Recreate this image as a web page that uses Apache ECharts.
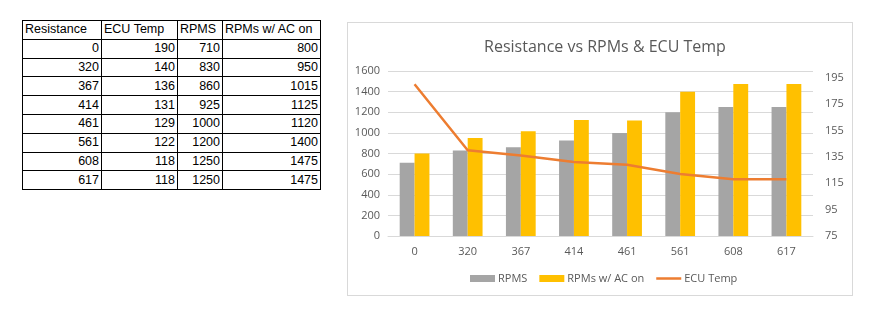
<!DOCTYPE html>
<html>
<head>
<meta charset="utf-8">
<script src="https://cdn.jsdelivr.net/npm/echarts@6/dist/echarts.min.js"></script>
<style>
  html, body { margin: 0; padding: 0; background: #fff; }
  #wrap { position: relative; width: 871px; height: 326px; overflow: hidden; }
  #chart { position: absolute; left: 0; top: 0; width: 871px; height: 326px; }
  #box { position: absolute; left: 347px; top: 22px; width: 506px; height: 274px;
         border: 1px solid #d9d9d9; box-sizing: border-box; }
  table { position: absolute; left: 22px; top: 20px; border-collapse: collapse; table-layout: fixed;
          font-family: "Liberation Sans", Arial, sans-serif; font-size: 12.5px; color: #000; }
  td { border: 1px solid #000; height: 17.8px; padding: 0 2px; line-height: 17px; white-space: nowrap; overflow: hidden; }
  td.num { text-align: right; }
</style>
</head>
<body>
<div id="wrap">
  <div id="box"></div>
  <table id="tbl"></table>
  <div id="chart"></div>
</div>
<script>
// Measurements per resistance step
const resistance = ['0', '320', '367', '414', '461', '561', '608', '617'];
const ecuTemp = [190, 140, 136, 131, 129, 122, 118, 118];
const rpms = [710, 830, 860, 925, 1000, 1200, 1250, 1250];
const rpmsAc = [800, 950, 1015, 1125, 1120, 1400, 1475, 1475];
const tempTicks = [75, 95, 115, 135, 155, 175, 195];
const headers = ['Resistance', 'ECU Temp', 'RPMS', 'RPMs w/ AC on'];
const colWidths = [74, 71, 40, 93];

// Data table
const tbl = document.getElementById('tbl');
const hr = document.createElement('tr');
headers.forEach((h, i) => {
  const td = document.createElement('td');
  td.textContent = h;
  td.style.width = colWidths[i] + 'px';
  hr.appendChild(td);
});
tbl.appendChild(hr);
resistance.forEach((r, i) => {
  const tr = document.createElement('tr');
  [r, ecuTemp[i], rpms[i], rpmsAc[i]].forEach(v => {
    const td = document.createElement('td');
    td.className = 'num';
    td.textContent = v;
    tr.appendChild(td);
  });
  tbl.appendChild(tr);
});

const chart = echarts.init(document.getElementById('chart'), null, { renderer: 'canvas' });
const txt = '#595959';
const font = '"Open Sans", "Noto Sans", sans-serif';
// thin horizontal bar for the line series' legend key (hairline keeps the box 7px tall)
const lineIcon = 'path://M0,0L0.01,0L0.01,7L0,7Z M0,2.3L25,2.3L25,4.7L0,4.7Z';
chart.setOption({
  animation: false,
  textStyle: { fontFamily: font },
  title: {
    text: 'Resistance vs RPMs & ECU Temp',
    left: 600, top: 34, textAlign: 'center',
    textStyle: { color: txt, fontSize: 16, fontWeight: 'normal', fontFamily: font }
  },
  legend: {
    left: 465, top: 268,
    itemWidth: 25, itemHeight: 7, itemGap: 12,
    textStyle: { color: txt, fontSize: 11, fontFamily: font, padding: [0, 0, 0, -2] },
    data: [
      { name: 'RPMS', icon: 'rect' },
      { name: 'RPMs w/ AC on', icon: 'rect' },
      { name: 'ECU Temp', icon: lineIcon }
    ]
  },
  grid: { left: 388, top: 71, width: 425, height: 165, containLabel: false },
  xAxis: {
    type: 'category',
    data: resistance,
    axisLine: { lineStyle: { color: '#d9d9d9' } },
    axisTick: { show: false },
    axisLabel: { color: txt, fontSize: 11, margin: 10 }
  },
  yAxis: [
    {
      type: 'value', min: 0, max: 1600, interval: 200,
      axisLine: { show: false }, axisTick: { show: false },
      splitLine: { lineStyle: { color: '#d9d9d9' } },
      axisLabel: { color: txt, fontSize: 11, margin: 8, formatter: v => String(v) }
    },
    {
      type: 'value', min: 75, max: 200,
      axisLine: { show: false }, axisTick: { show: false },
      splitLine: { show: false },
      axisLabel: { color: txt, fontSize: 11, margin: 12, customValues: tempTicks, formatter: v => String(v) }
    }
  ],
  series: [
    {
      name: 'RPMS', type: 'bar', data: rpms,
      itemStyle: { color: '#a5a5a5' },
      barGap: '0%', barCategoryGap: '44%'
    },
    {
      name: 'RPMs w/ AC on', type: 'bar', data: rpmsAc,
      itemStyle: { color: '#ffc000' },
      barGap: '0%', barCategoryGap: '44%'
    },
    {
      name: 'ECU Temp', type: 'line', yAxisIndex: 1, data: ecuTemp,
      symbol: 'none',
      lineStyle: { color: '#ed7d31', width: 2.5 },
      itemStyle: { color: '#ed7d31' }
    }
  ]
});
</script>
</body>
</html>
